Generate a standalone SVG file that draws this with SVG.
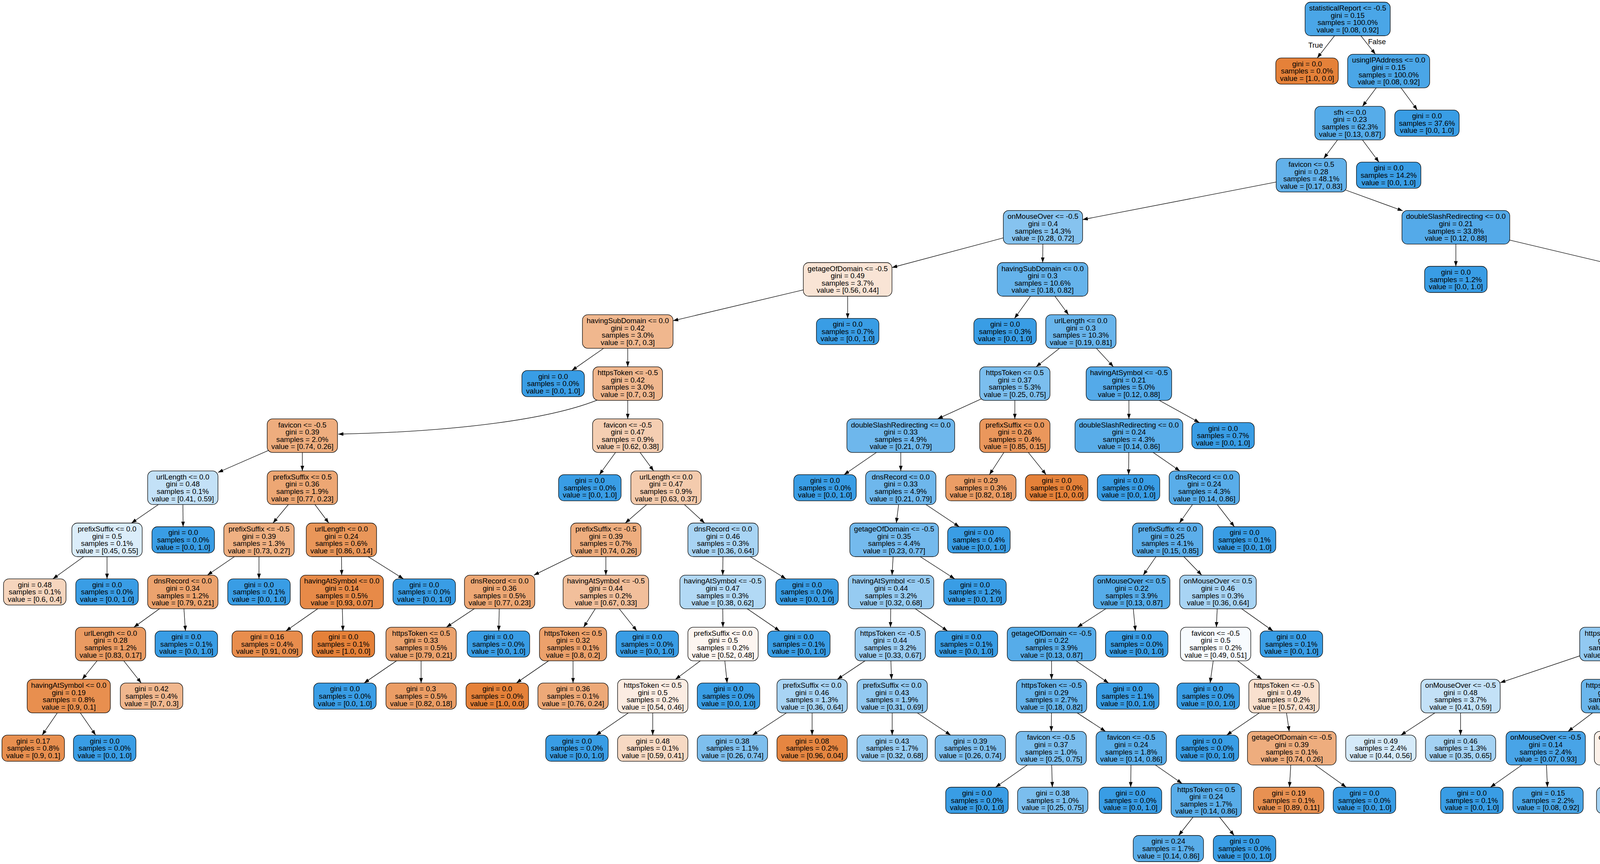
<svg xmlns="http://www.w3.org/2000/svg" width="7837" height="2211" viewBox="0 0 7837 2211">
<style>
.nd rect{stroke:#000;stroke-width:1.3;rx:14px;ry:14px}
.nd text,.lbl{font-family:"Liberation Sans",Arial,Helvetica,sans-serif;font-size:18.67px;text-anchor:middle;fill:#000}
#edges path{fill:none;stroke:#000;stroke-width:1.3;marker-end:url(#ah)}
</style>
<defs>
<marker id="ah" markerUnits="userSpaceOnUse" markerWidth="14" markerHeight="10" refX="13.3" refY="4.7" orient="auto"><path d="M0,0L13.3,4.7L0,9.4z" fill="#000"/></marker>
</defs>
<rect width="7837" height="2211" fill="#fff"/>
<g id="edges">
<path d="M3450,48.5L3372.1,148.3"/><path d="M3450,48.5L3521.1,138.8"/>
<path d="M3555,181.8L3487.9,272.1"/><path d="M3555,181.8L3628.4,281.6"/>
<path d="M3456,315.1L3388.9,405.4"/><path d="M3456,315.1L3530.1,414.9"/>
<path d="M3357,448.4L2771.5,562"/><path d="M3400,470L3591,539.5"/>
<path d="M2670,581.7L2283.5,684.7"/><path d="M2670,581.7L2669.3,672"/>
<path d="M3727,581.7L3727,681.5"/><path d="M3727,581.7L4175.5,688.1"/>
<path d="M2170,715L1723,820.8"/><path d="M2170,715L2170,814.8"/>
<path d="M2669,715L2597.1,814.8"/><path d="M2669,715L2735.4,805.3"/>
<path d="M4289,715L4289,805.3"/><path d="M4289,715L4432.7,814.8"/>
<path d="M1607,848.3L1464,948.1"/><path d="M1607,848.3L1607,938.6"/>
<path d="M2767,848.3L2652.5,938.6"/><path d="M2767,848.3L2850.3,938.6"/>
<path d="M4289,848.3L4289,938.6"/><path d="M4289,848.3L4453,948.1"/>
<path d="M1560,1010C1430,1075 1150,1105 866,1111"/><path d="M1607,981.6L1607,1071.9"/>
<path d="M2598,981.6L2400.2,1071.9"/><path d="M2598,981.6L2598,1071.9"/>
<path d="M2890,981.6L2890,1071.9"/><path d="M2890,981.6L3070.4,1081.4"/>
<path d="M4289,981.6L4289,1081.4"/><path d="M4380,1010C4600,1055 4950,1085 5433,1109"/>
<path d="M774,1114.9L558,1209"/><path d="M774,1114.9L774,1205.2"/>
<path d="M1607,1114.9L1534.4,1214.7"/><path d="M1607,1114.9L1673.4,1205.2"/>
<path d="M2306,1114.9L2160.8,1214.7"/><path d="M2306,1114.9L2306,1205.2"/>
<path d="M2598,1114.9L2532.9,1214.7"/><path d="M2598,1114.9L2678.1,1214.7"/>
<path d="M2890,1114.9L2889.3,1214.7"/><path d="M2890,1114.9L3020.7,1205.2"/>
<path d="M5523,1114.9L5523,1205.2"/><path d="M5523,1114.9L6551,1237.5"/>
<path d="M468,1248.2L336.6,1338.5"/><path d="M468,1248.2L468.7,1348"/>
<path d="M774,1248.2L698.8,1338.5"/><path d="M774,1248.2L841.7,1338.5"/>
<path d="M1705,1248.2L1600.7,1338.5"/><path d="M1705,1248.2L1803.9,1338.5"/>
<path d="M2306,1248.2L2294.5,1338.5"/><path d="M2306,1248.2L2455.7,1348"/>
<path d="M3083,1248.2L3019.3,1338.5"/><path d="M3083,1248.2L3160.1,1348"/>
<path d="M5523,1248.2L5387.5,1338.5"/><path d="M5523,1248.2L5731,1338.5"/>
<path d="M6641,1248.2L6641,1338.5"/><path d="M6641,1248.2L7045.5,1353.7"/>
<path d="M274,1381.5L135.5,1481.3"/><path d="M274,1381.5L274,1481.3"/>
<path d="M663,1381.5L530.9,1471.8"/><path d="M663,1381.5L663,1481.3"/>
<path d="M874,1381.5L874.7,1471.8"/><path d="M874,1381.5L1032.7,1481.3"/>
<path d="M1551,1381.5L1366.7,1471.8"/><path d="M1551,1381.5L1551,1471.8"/>
<path d="M1851,1381.5L1850.3,1471.8"/><path d="M1851,1381.5L2012,1481.3"/>
<path d="M2289,1381.5L2283.6,1471.8"/><path d="M2289,1381.5L2444,1481.3"/>
<path d="M2989,1381.5L2926.7,1471.8"/><path d="M2989,1381.5L3076.4,1471.8"/>
<path d="M5323,1381.5L4645.5,1496.7"/><path d="M5323,1381.5L5323.7,1471.8"/>
<path d="M5830,1381.5L5830,1471.8"/><path d="M5830,1381.5L5976,1481.3"/>
<path d="M6641,1381.5L6579.4,1471.8"/><path d="M6641,1381.5L6717.4,1481.3"/>
<path d="M7152,1381.5L7152.7,1471.8"/><path d="M7152,1381.5L7298.7,1481.3"/>
<path d="M468,1514.8L342.7,1605.1"/><path d="M468,1514.8L474.7,1614.6"/>
<path d="M875,1514.8L732,1614.6"/><path d="M875,1514.8L878,1614.6"/>
<path d="M1279,1514.8L1142.8,1605.1"/><path d="M1279,1514.8L1276.8,1614.6"/>
<path d="M1551,1514.8L1494.1,1605.1"/><path d="M1551,1514.8L1630.4,1614.6"/>
<path d="M1850,1514.8L1850.7,1605.1"/><path d="M1850,1514.8L1996,1614.6"/>
<path d="M2281,1514.8L2279.6,1605.1"/><path d="M2281,1514.8L2425.5,1614.6"/>
<path d="M2897,1514.8L2758.1,1605.1"/><path d="M2897,1514.8L2906.7,1614.6"/>
<path d="M3118,1514.8L3113.9,1605.1"/><path d="M3118,1514.8L3258.8,1614.6"/>
<path d="M4539,1514.8L4224,1618.5"/><path d="M4539,1514.8L4539.7,1605.1"/>
<path d="M5324,1514.8L5250.2,1605.1"/><path d="M5324,1514.8L5397.2,1605.1"/>
<path d="M5830,1514.8L5830.7,1605.1"/><path d="M5830,1514.8L5976,1614.6"/>
<path d="M6550,1514.8L6476.2,1605.1"/><path d="M6550,1514.8L6622.5,1605.1"/>
<path d="M7153,1514.8L7153.7,1605.1"/><path d="M7153,1514.8L7365.7,1605.1"/>
<path d="M283,1648.1L210.5,1738.4"/><path d="M283,1648.1L361.6,1747.9"/>
<path d="M1078,1648.1L932,1747.9"/><path d="M1078,1648.1L1078,1747.9"/>
<path d="M1467,1648.1L1321.8,1747.9"/><path d="M1467,1648.1L1467,1747.9"/>
<path d="M1851,1648.1L1729.1,1738.4"/><path d="M1851,1648.1L1861.5,1747.9"/>
<path d="M2279,1648.1L2143.5,1738.4"/><path d="M2279,1648.1L2282.4,1738.4"/>
<path d="M2692,1648.1L2692,1738.4"/><path d="M2692,1648.1L2838,1747.9"/>
<path d="M3112,1648.1L3097.8,1747.9"/><path d="M3112,1648.1L3230.5,1738.4"/>
<path d="M4134,1648.1L3840.5,1747.1"/><path d="M4134,1648.1L4134,1738.4"/>
<path d="M4540,1648.1L4470.2,1738.4"/><path d="M4540,1648.1L4616.4,1747.9"/>
<path d="M5215,1648.1L5061.2,1738.4"/><path d="M5215,1648.1L5215,1738.4"/>
<path d="M5432,1648.1L5432,1738.4"/><path d="M5432,1648.1L5584.7,1747.9"/>
<path d="M5831,1648.1L5830.3,1747.9"/><path d="M5831,1648.1L5968,1747.9"/>
<path d="M6441,1648.1L6291.3,1738.4"/><path d="M6441,1648.1L6444.4,1738.4"/>
<path d="M6657,1648.1L6653.3,1747.9"/><path d="M6657,1648.1L6790.4,1738.4"/>
<path d="M7154,1648.1L7088.9,1747.9"/><path d="M7154,1648.1L7242.3,1747.9"/>
<path d="M7467,1648.1L7467,1747.9"/><path d="M7467,1648.1L7597.7,1738.4"/>
<path d="M176,1781.4L107.9,1881.2"/><path d="M176,1781.4L244.9,1881.2"/>
<path d="M1671,1781.4L1525.8,1881.2"/><path d="M1671,1781.4L1671,1881.2"/>
<path d="M2079,1781.4L1926.3,1881.2"/><path d="M2079,1781.4L2079,1881.2"/>
<path d="M2284,1781.4L2284,1881.2"/><path d="M2284,1781.4L2433.7,1881.2"/>
<path d="M2692,1781.4L2691.3,1871.7"/><path d="M2692,1781.4L2830.2,1871.7"/>
<path d="M3287,1781.4L3140.3,1881.2"/><path d="M3287,1781.4L3300.5,1871.7"/>
<path d="M3739,1781.4L3586.3,1881.2"/><path d="M3739,1781.4L3739,1881.2"/>
<path d="M4134,1781.4L4014.1,1871.7"/><path d="M4134,1781.4L4167.2,1871.7"/>
<path d="M4437,1781.4L4400.3,1881.2"/><path d="M4437,1781.4L4546.3,1881.2"/>
<path d="M4988,1781.4L4837.5,1881.2"/><path d="M4988,1781.4L4990.2,1881.2"/>
<path d="M5215,1781.4L5192.5,1881.2"/><path d="M5215,1781.4L5327.4,1871.7"/>
<path d="M5432,1781.4L5543.1,1871.7"/><path d="M5500,1812C5600,1835 5690,1845 5735,1881.2"/>
<path d="M6220,1781.4L6084.5,1871.7"/><path d="M6220,1781.4L6228.2,1881.2"/>
<path d="M6446,1781.4L6424.3,1881.2"/><path d="M6446,1781.4L6569.3,1871.7"/>
<path d="M6854,1781.4L6853.3,1881.2"/><path d="M6854,1781.4L6998.5,1881.2"/>
<path d="M7660,1781.4L7591.1,1881.2"/><path d="M7660,1781.4L7728.9,1881.2"/>
<path d="M2691,1914.7L2548.7,2014.5"/><path d="M2691,1914.7L2694,2014.5"/>
<path d="M2896,1914.7L2894.5,2014.5"/><path d="M2896,1914.7L3026.1,2005"/>
<path d="M3307,1914.7L3301,2014.5"/><path d="M3307,1914.7L3446.3,2014.5"/>
<path d="M3957,1914.7L3815.5,2014.5"/><path d="M3957,1914.7L3961.5,2014.5"/>
<path d="M4183,1914.7L4178.5,2014.5"/><path d="M4183,1914.7L4331.2,2014.5"/>
<path d="M5381,1914.7L5229.8,2014.5"/><path d="M5381,1914.7L5382.5,2014.5"/>
<path d="M5596,1914.7L5592.3,2014.5"/><path d="M5596,1914.7L5738.3,2014.5"/>
<path d="M6020,1914.7L6007.3,2014.5"/><path d="M6020,1914.7L6153.3,2014.5"/>
<path d="M6628,1914.7L6560.3,2005"/><path d="M6628,1914.7L6705.1,2014.5"/>
<path d="M3088,2048L3017.3,2138"/><path d="M3088,2048L3159.4,2138"/>
<path d="M6528,2048L6456.6,2138"/><path d="M6528,2048L6598.7,2138"/>
</g>
<g id="labels">
<text class="lbl" x="3368" y="121.5">True</text>
<text class="lbl" x="3525" y="112.5">False</text>
</g>
<g id="nodes">
<g id="n0" class="nd"><rect x="3341" y="5.5" width="218" height="86" fill="#4aa6e7"/><text y="55"><tspan x="3450" dy="-27.9">statisticalReport &lt;= -0.5</tspan><tspan x="3450" dy="18.6">gini = 0.15</tspan><tspan x="3450" dy="18.6">samples = 100.0%</tspan><tspan x="3450" dy="18.6">value = [0.08, 0.92]</tspan></text></g>
<g id="n1" class="nd"><rect x="3266" y="148.3" width="160" height="67" fill="#e58139"/><text y="188.3"><tspan x="3346" dy="-18.6">gini = 0.0</tspan><tspan x="3346" dy="18.6">samples = 0.0%</tspan><tspan x="3346" dy="18.6">value = [1.0, 0.0]</tspan></text></g>
<g id="n2" class="nd"><rect x="3450" y="138.8" width="210" height="86" fill="#4aa6e7"/><text y="188.3"><tspan x="3555" dy="-27.9">usingIPAddress &lt;= 0.0</tspan><tspan x="3555" dy="18.6">gini = 0.15</tspan><tspan x="3555" dy="18.6">samples = 100.0%</tspan><tspan x="3555" dy="18.6">value = [0.08, 0.92]</tspan></text></g>
<g id="n3" class="nd"><rect x="3366" y="272.1" width="180" height="86" fill="#56ace9"/><text y="321.6"><tspan x="3456" dy="-27.9">sfh &lt;= 0.0</tspan><tspan x="3456" dy="18.6">gini = 0.23</tspan><tspan x="3456" dy="18.6">samples = 62.3%</tspan><tspan x="3456" dy="18.6">value = [0.13, 0.87]</tspan></text></g>
<g id="n4" class="nd"><rect x="3570.5" y="281.6" width="165" height="67" fill="#399de5"/><text y="321.6"><tspan x="3653" dy="-18.6">gini = 0.0</tspan><tspan x="3653" dy="18.6">samples = 37.6%</tspan><tspan x="3653" dy="18.6">value = [0.0, 1.0]</tspan></text></g>
<g id="n5" class="nd"><rect x="3267" y="405.4" width="180" height="86" fill="#62b1ea"/><text y="454.9"><tspan x="3357" dy="-27.9">favicon &lt;= 0.5</tspan><tspan x="3357" dy="18.6">gini = 0.28</tspan><tspan x="3357" dy="18.6">samples = 48.1%</tspan><tspan x="3357" dy="18.6">value = [0.17, 0.83]</tspan></text></g>
<g id="n6" class="nd"><rect x="3472.5" y="414.9" width="165" height="67" fill="#399de5"/><text y="454.9"><tspan x="3555" dy="-18.6">gini = 0.0</tspan><tspan x="3555" dy="18.6">samples = 14.2%</tspan><tspan x="3555" dy="18.6">value = [0.0, 1.0]</tspan></text></g>
<g id="n7" class="nd"><rect x="2568.5" y="538.7" width="203" height="86" fill="#86c3ef"/><text y="588.2"><tspan x="2670" dy="-27.9">onMouseOver &lt;= -0.5</tspan><tspan x="2670" dy="18.6">gini = 0.4</tspan><tspan x="2670" dy="18.6">samples = 14.3%</tspan><tspan x="2670" dy="18.6">value = [0.28, 0.72]</tspan></text></g>
<g id="n8" class="nd"><rect x="3589" y="538.7" width="276" height="86" fill="#54aae9"/><text y="588.2"><tspan x="3727" dy="-27.9">doubleSlashRedirecting &lt;= 0.0</tspan><tspan x="3727" dy="18.6">gini = 0.21</tspan><tspan x="3727" dy="18.6">samples = 33.8%</tspan><tspan x="3727" dy="18.6">value = [0.12, 0.88]</tspan></text></g>
<g id="n9" class="nd"><rect x="2056.5" y="672" width="227" height="86" fill="#f9e4d5"/><text y="721.5"><tspan x="2170" dy="-27.9">getageOfDomain &lt;= -0.5</tspan><tspan x="2170" dy="18.6">gini = 0.49</tspan><tspan x="2170" dy="18.6">samples = 3.7%</tspan><tspan x="2170" dy="18.6">value = [0.56, 0.44]</tspan></text></g>
<g id="n10" class="nd"><rect x="2553" y="672" width="232" height="86" fill="#65b3eb"/><text y="721.5"><tspan x="2669" dy="-27.9">havingSubDomain &lt;= 0.0</tspan><tspan x="2669" dy="18.6">gini = 0.3</tspan><tspan x="2669" dy="18.6">samples = 10.6%</tspan><tspan x="2669" dy="18.6">value = [0.18, 0.82]</tspan></text></g>
<g id="n11" class="nd"><rect x="3647" y="681.5" width="160" height="67" fill="#399de5"/><text y="721.5"><tspan x="3727" dy="-18.6">gini = 0.0</tspan><tspan x="3727" dy="18.6">samples = 1.2%</tspan><tspan x="3727" dy="18.6">value = [0.0, 1.0]</tspan></text></g>
<g id="n12" class="nd"><rect x="4175.5" y="672" width="227" height="86" fill="#54aae9"/><text y="721.5"><tspan x="4289" dy="-27.9">getageOfDomain &lt;= -0.5</tspan><tspan x="4289" dy="18.6">gini = 0.22</tspan><tspan x="4289" dy="18.6">samples = 32.7%</tspan><tspan x="4289" dy="18.6">value = [0.12, 0.88]</tspan></text></g>
<g id="n13" class="nd"><rect x="1491" y="805.3" width="232" height="86" fill="#f0b78e"/><text y="854.8"><tspan x="1607" dy="-27.9">havingSubDomain &lt;= 0.0</tspan><tspan x="1607" dy="18.6">gini = 0.42</tspan><tspan x="1607" dy="18.6">samples = 3.0%</tspan><tspan x="1607" dy="18.6">value = [0.7, 0.3]</tspan></text></g>
<g id="n14" class="nd"><rect x="2090" y="814.8" width="160" height="67" fill="#399de5"/><text y="854.8"><tspan x="2170" dy="-18.6">gini = 0.0</tspan><tspan x="2170" dy="18.6">samples = 0.7%</tspan><tspan x="2170" dy="18.6">value = [0.0, 1.0]</tspan></text></g>
<g id="n15" class="nd"><rect x="2493" y="814.8" width="160" height="67" fill="#399de5"/><text y="854.8"><tspan x="2573" dy="-18.6">gini = 0.0</tspan><tspan x="2573" dy="18.6">samples = 0.3%</tspan><tspan x="2573" dy="18.6">value = [0.0, 1.0]</tspan></text></g>
<g id="n16" class="nd"><rect x="2677" y="805.3" width="180" height="86" fill="#68b4eb"/><text y="854.8"><tspan x="2767" dy="-27.9">urlLength &lt;= 0.0</tspan><tspan x="2767" dy="18.6">gini = 0.3</tspan><tspan x="2767" dy="18.6">samples = 10.3%</tspan><tspan x="2767" dy="18.6">value = [0.19, 0.81]</tspan></text></g>
<g id="n17" class="nd"><rect x="4204.5" y="805.3" width="169" height="86" fill="#6ab6ec"/><text y="854.8"><tspan x="4289" dy="-27.9">dnsRecord &lt;= 0.0</tspan><tspan x="4289" dy="18.6">gini = 0.32</tspan><tspan x="4289" dy="18.6">samples = 19.7%</tspan><tspan x="4289" dy="18.6">value = [0.2, 0.8]</tspan></text></g>
<g id="n18" class="nd"><rect x="4398.5" y="814.8" width="165" height="67" fill="#399de5"/><text y="854.8"><tspan x="4481" dy="-18.6">gini = 0.0</tspan><tspan x="4481" dy="18.6">samples = 12.9%</tspan><tspan x="4481" dy="18.6">value = [0.0, 1.0]</tspan></text></g>
<g id="n19" class="nd"><rect x="1336" y="948.1" width="160" height="67" fill="#399de5"/><text y="988.1"><tspan x="1416" dy="-18.6">gini = 0.0</tspan><tspan x="1416" dy="18.6">samples = 0.0%</tspan><tspan x="1416" dy="18.6">value = [0.0, 1.0]</tspan></text></g>
<g id="n20" class="nd"><rect x="1518" y="938.6" width="178" height="86" fill="#f0b78e"/><text y="988.1"><tspan x="1607" dy="-27.9">httpsToken &lt;= -0.5</tspan><tspan x="1607" dy="18.6">gini = 0.42</tspan><tspan x="1607" dy="18.6">samples = 3.0%</tspan><tspan x="1607" dy="18.6">value = [0.7, 0.3]</tspan></text></g>
<g id="n21" class="nd"><rect x="2508" y="938.6" width="180" height="86" fill="#7bbeee"/><text y="988.1"><tspan x="2598" dy="-27.9">httpsToken &lt;= 0.5</tspan><tspan x="2598" dy="18.6">gini = 0.37</tspan><tspan x="2598" dy="18.6">samples = 5.3%</tspan><tspan x="2598" dy="18.6">value = [0.25, 0.75]</tspan></text></g>
<g id="n22" class="nd"><rect x="2780.5" y="938.6" width="219" height="86" fill="#54aae9"/><text y="988.1"><tspan x="2890" dy="-27.9">havingAtSymbol &lt;= -0.5</tspan><tspan x="2890" dy="18.6">gini = 0.21</tspan><tspan x="2890" dy="18.6">samples = 5.0%</tspan><tspan x="2890" dy="18.6">value = [0.12, 0.88]</tspan></text></g>
<g id="n23" class="nd"><rect x="4173" y="938.6" width="232" height="86" fill="#6eb7ec"/><text y="988.1"><tspan x="4289" dy="-27.9">havingSubDomain &lt;= 0.0</tspan><tspan x="4289" dy="18.6">gini = 0.33</tspan><tspan x="4289" dy="18.6">samples = 19.0%</tspan><tspan x="4289" dy="18.6">value = [0.21, 0.79]</tspan></text></g>
<g id="n24" class="nd"><rect x="4428" y="948.1" width="160" height="67" fill="#399de5"/><text y="988.1"><tspan x="4508" dy="-18.6">gini = 0.0</tspan><tspan x="4508" dy="18.6">samples = 0.8%</tspan><tspan x="4508" dy="18.6">value = [0.0, 1.0]</tspan></text></g>
<g id="n25" class="nd"><rect x="684" y="1071.9" width="180" height="86" fill="#eead7e"/><text y="1121.4"><tspan x="774" dy="-27.9">favicon &lt;= -0.5</tspan><tspan x="774" dy="18.6">gini = 0.39</tspan><tspan x="774" dy="18.6">samples = 2.0%</tspan><tspan x="774" dy="18.6">value = [0.74, 0.26]</tspan></text></g>
<g id="n26" class="nd"><rect x="1517" y="1071.9" width="180" height="86" fill="#f5ceb2"/><text y="1121.4"><tspan x="1607" dy="-27.9">favicon &lt;= -0.5</tspan><tspan x="1607" dy="18.6">gini = 0.47</tspan><tspan x="1607" dy="18.6">samples = 0.9%</tspan><tspan x="1607" dy="18.6">value = [0.62, 0.38]</tspan></text></g>
<g id="n27" class="nd"><rect x="2168" y="1071.9" width="276" height="86" fill="#6eb7ec"/><text y="1121.4"><tspan x="2306" dy="-27.9">doubleSlashRedirecting &lt;= 0.0</tspan><tspan x="2306" dy="18.6">gini = 0.33</tspan><tspan x="2306" dy="18.6">samples = 4.9%</tspan><tspan x="2306" dy="18.6">value = [0.21, 0.79]</tspan></text></g>
<g id="n28" class="nd"><rect x="2508" y="1071.9" width="180" height="86" fill="#ea975c"/><text y="1121.4"><tspan x="2598" dy="-27.9">prefixSuffix &lt;= 0.0</tspan><tspan x="2598" dy="18.6">gini = 0.26</tspan><tspan x="2598" dy="18.6">samples = 0.4%</tspan><tspan x="2598" dy="18.6">value = [0.85, 0.15]</tspan></text></g>
<g id="n29" class="nd"><rect x="2752" y="1071.9" width="276" height="86" fill="#59ade9"/><text y="1121.4"><tspan x="2890" dy="-27.9">doubleSlashRedirecting &lt;= 0.0</tspan><tspan x="2890" dy="18.6">gini = 0.24</tspan><tspan x="2890" dy="18.6">samples = 4.3%</tspan><tspan x="2890" dy="18.6">value = [0.14, 0.86]</tspan></text></g>
<g id="n30" class="nd"><rect x="3051" y="1081.4" width="160" height="67" fill="#399de5"/><text y="1121.4"><tspan x="3131" dy="-18.6">gini = 0.0</tspan><tspan x="3131" dy="18.6">samples = 0.7%</tspan><tspan x="3131" dy="18.6">value = [0.0, 1.0]</tspan></text></g>
<g id="n31" class="nd"><rect x="4209" y="1081.4" width="160" height="67" fill="#399de5"/><text y="1121.4"><tspan x="4289" dy="-18.6">gini = 0.0</tspan><tspan x="4289" dy="18.6">samples = 0.1%</tspan><tspan x="4289" dy="18.6">value = [0.0, 1.0]</tspan></text></g>
<g id="n32" class="nd"><rect x="5433" y="1071.9" width="180" height="86" fill="#6eb7ec"/><text y="1121.4"><tspan x="5523" dy="-27.9">urlLength &lt;= 0.0</tspan><tspan x="5523" dy="18.6">gini = 0.34</tspan><tspan x="5523" dy="18.6">samples = 18.9%</tspan><tspan x="5523" dy="18.6">value = [0.21, 0.79]</tspan></text></g>
<g id="n33" class="nd"><rect x="378" y="1205.2" width="180" height="86" fill="#c3e1f7"/><text y="1254.7"><tspan x="468" dy="-27.9">urlLength &lt;= 0.0</tspan><tspan x="468" dy="18.6">gini = 0.48</tspan><tspan x="468" dy="18.6">samples = 0.1%</tspan><tspan x="468" dy="18.6">value = [0.41, 0.59]</tspan></text></g>
<g id="n34" class="nd"><rect x="684" y="1205.2" width="180" height="86" fill="#eda774"/><text y="1254.7"><tspan x="774" dy="-27.9">prefixSuffix &lt;= 0.5</tspan><tspan x="774" dy="18.6">gini = 0.36</tspan><tspan x="774" dy="18.6">samples = 1.9%</tspan><tspan x="774" dy="18.6">value = [0.77, 0.23]</tspan></text></g>
<g id="n35" class="nd"><rect x="1430" y="1214.7" width="160" height="67" fill="#399de5"/><text y="1254.7"><tspan x="1510" dy="-18.6">gini = 0.0</tspan><tspan x="1510" dy="18.6">samples = 0.0%</tspan><tspan x="1510" dy="18.6">value = [0.0, 1.0]</tspan></text></g>
<g id="n36" class="nd"><rect x="1615" y="1205.2" width="180" height="86" fill="#f4cbad"/><text y="1254.7"><tspan x="1705" dy="-27.9">urlLength &lt;= 0.0</tspan><tspan x="1705" dy="18.6">gini = 0.47</tspan><tspan x="1705" dy="18.6">samples = 0.9%</tspan><tspan x="1705" dy="18.6">value = [0.63, 0.37]</tspan></text></g>
<g id="n37" class="nd"><rect x="2032" y="1214.7" width="160" height="67" fill="#399de5"/><text y="1254.7"><tspan x="2112" dy="-18.6">gini = 0.0</tspan><tspan x="2112" dy="18.6">samples = 0.0%</tspan><tspan x="2112" dy="18.6">value = [0.0, 1.0]</tspan></text></g>
<g id="n38" class="nd"><rect x="2216" y="1205.2" width="180" height="86" fill="#6eb7ec"/><text y="1254.7"><tspan x="2306" dy="-27.9">dnsRecord &lt;= 0.0</tspan><tspan x="2306" dy="18.6">gini = 0.33</tspan><tspan x="2306" dy="18.6">samples = 4.9%</tspan><tspan x="2306" dy="18.6">value = [0.21, 0.79]</tspan></text></g>
<g id="n39" class="nd"><rect x="2421" y="1214.7" width="180" height="67" fill="#eb9d65"/><text y="1254.7"><tspan x="2511" dy="-18.6">gini = 0.29</tspan><tspan x="2511" dy="18.6">samples = 0.3%</tspan><tspan x="2511" dy="18.6">value = [0.82, 0.18]</tspan></text></g>
<g id="n40" class="nd"><rect x="2625" y="1214.7" width="160" height="67" fill="#e58139"/><text y="1254.7"><tspan x="2705" dy="-18.6">gini = 0.0</tspan><tspan x="2705" dy="18.6">samples = 0.0%</tspan><tspan x="2705" dy="18.6">value = [1.0, 0.0]</tspan></text></g>
<g id="n41" class="nd"><rect x="2809" y="1214.7" width="160" height="67" fill="#399de5"/><text y="1254.7"><tspan x="2889" dy="-18.6">gini = 0.0</tspan><tspan x="2889" dy="18.6">samples = 0.0%</tspan><tspan x="2889" dy="18.6">value = [0.0, 1.0]</tspan></text></g>
<g id="n42" class="nd"><rect x="2993" y="1205.2" width="180" height="86" fill="#59ade9"/><text y="1254.7"><tspan x="3083" dy="-27.9">dnsRecord &lt;= 0.0</tspan><tspan x="3083" dy="18.6">gini = 0.24</tspan><tspan x="3083" dy="18.6">samples = 4.3%</tspan><tspan x="3083" dy="18.6">value = [0.14, 0.86]</tspan></text></g>
<g id="n43" class="nd"><rect x="5425" y="1205.2" width="196" height="86" fill="#92c9f1"/><text y="1254.7"><tspan x="5523" dy="-27.9">onMouseOver &lt;= 0.5</tspan><tspan x="5523" dy="18.6">gini = 0.42</tspan><tspan x="5523" dy="18.6">samples = 10.0%</tspan><tspan x="5523" dy="18.6">value = [0.31, 0.69]</tspan></text></g>
<g id="n44" class="nd"><rect x="6551" y="1205.2" width="180" height="86" fill="#52a9e8"/><text y="1254.7"><tspan x="6641" dy="-27.9">prefixSuffix &lt;= 0.5</tspan><tspan x="6641" dy="18.6">gini = 0.2</tspan><tspan x="6641" dy="18.6">samples = 8.9%</tspan><tspan x="6641" dy="18.6">value = [0.11, 0.89]</tspan></text></g>
<g id="n45" class="nd"><rect x="184" y="1338.5" width="180" height="86" fill="#dbedfa"/><text y="1388"><tspan x="274" dy="-27.9">prefixSuffix &lt;= 0.0</tspan><tspan x="274" dy="18.6">gini = 0.5</tspan><tspan x="274" dy="18.6">samples = 0.1%</tspan><tspan x="274" dy="18.6">value = [0.45, 0.55]</tspan></text></g>
<g id="n46" class="nd"><rect x="389" y="1348" width="160" height="67" fill="#399de5"/><text y="1388"><tspan x="469" dy="-18.6">gini = 0.0</tspan><tspan x="469" dy="18.6">samples = 0.0%</tspan><tspan x="469" dy="18.6">value = [0.0, 1.0]</tspan></text></g>
<g id="n47" class="nd"><rect x="573" y="1338.5" width="180" height="86" fill="#efb082"/><text y="1388"><tspan x="663" dy="-27.9">prefixSuffix &lt;= -0.5</tspan><tspan x="663" dy="18.6">gini = 0.39</tspan><tspan x="663" dy="18.6">samples = 1.3%</tspan><tspan x="663" dy="18.6">value = [0.73, 0.27]</tspan></text></g>
<g id="n48" class="nd"><rect x="784" y="1338.5" width="180" height="86" fill="#e99659"/><text y="1388"><tspan x="874" dy="-27.9">urlLength &lt;= 0.0</tspan><tspan x="874" dy="18.6">gini = 0.24</tspan><tspan x="874" dy="18.6">samples = 0.6%</tspan><tspan x="874" dy="18.6">value = [0.86, 0.14]</tspan></text></g>
<g id="n49" class="nd"><rect x="1461" y="1338.5" width="180" height="86" fill="#eead7e"/><text y="1388"><tspan x="1551" dy="-27.9">prefixSuffix &lt;= -0.5</tspan><tspan x="1551" dy="18.6">gini = 0.39</tspan><tspan x="1551" dy="18.6">samples = 0.7%</tspan><tspan x="1551" dy="18.6">value = [0.74, 0.26]</tspan></text></g>
<g id="n50" class="nd"><rect x="1761" y="1338.5" width="180" height="86" fill="#a8d4f4"/><text y="1388"><tspan x="1851" dy="-27.9">dnsRecord &lt;= 0.0</tspan><tspan x="1851" dy="18.6">gini = 0.46</tspan><tspan x="1851" dy="18.6">samples = 0.3%</tspan><tspan x="1851" dy="18.6">value = [0.36, 0.64]</tspan></text></g>
<g id="n51" class="nd"><rect x="2175.5" y="1338.5" width="227" height="86" fill="#74baed"/><text y="1388"><tspan x="2289" dy="-27.9">getageOfDomain &lt;= -0.5</tspan><tspan x="2289" dy="18.6">gini = 0.35</tspan><tspan x="2289" dy="18.6">samples = 4.4%</tspan><tspan x="2289" dy="18.6">value = [0.23, 0.77]</tspan></text></g>
<g id="n52" class="nd"><rect x="2426" y="1348" width="160" height="67" fill="#399de5"/><text y="1388"><tspan x="2506" dy="-18.6">gini = 0.0</tspan><tspan x="2506" dy="18.6">samples = 0.4%</tspan><tspan x="2506" dy="18.6">value = [0.0, 1.0]</tspan></text></g>
<g id="n53" class="nd"><rect x="2899" y="1338.5" width="180" height="86" fill="#5caeea"/><text y="1388"><tspan x="2989" dy="-27.9">prefixSuffix &lt;= 0.0</tspan><tspan x="2989" dy="18.6">gini = 0.25</tspan><tspan x="2989" dy="18.6">samples = 4.1%</tspan><tspan x="2989" dy="18.6">value = [0.15, 0.85]</tspan></text></g>
<g id="n54" class="nd"><rect x="3106" y="1348" width="160" height="67" fill="#399de5"/><text y="1388"><tspan x="3186" dy="-18.6">gini = 0.0</tspan><tspan x="3186" dy="18.6">samples = 0.1%</tspan><tspan x="3186" dy="18.6">value = [0.0, 1.0]</tspan></text></g>
<g id="n55" class="nd"><rect x="5233" y="1338.5" width="180" height="86" fill="#8ac5f0"/><text y="1388"><tspan x="5323" dy="-27.9">prefixSuffix &lt;= -0.5</tspan><tspan x="5323" dy="18.6">gini = 0.42</tspan><tspan x="5323" dy="18.6">samples = 9.8%</tspan><tspan x="5323" dy="18.6">value = [0.29, 0.71]</tspan></text></g>
<g id="n56" class="nd"><rect x="5720.5" y="1338.5" width="219" height="86" fill="#ea975c"/><text y="1388"><tspan x="5830" dy="-27.9">havingAtSymbol &lt;= -0.5</tspan><tspan x="5830" dy="18.6">gini = 0.26</tspan><tspan x="5830" dy="18.6">samples = 0.2%</tspan><tspan x="5830" dy="18.6">value = [0.85, 0.15]</tspan></text></g>
<g id="n57" class="nd"><rect x="6551" y="1338.5" width="180" height="86" fill="#4da7e8"/><text y="1388"><tspan x="6641" dy="-27.9">prefixSuffix &lt;= -0.5</tspan><tspan x="6641" dy="18.6">gini = 0.16</tspan><tspan x="6641" dy="18.6">samples = 7.1%</tspan><tspan x="6641" dy="18.6">value = [0.09, 0.91]</tspan></text></g>
<g id="n58" class="nd"><rect x="7045.5" y="1338.5" width="213" height="86" fill="#6ab6ec"/><text y="1388"><tspan x="7152" dy="-27.9">havingAtSymbol &lt;= 0.0</tspan><tspan x="7152" dy="18.6">gini = 0.32</tspan><tspan x="7152" dy="18.6">samples = 1.7%</tspan><tspan x="7152" dy="18.6">value = [0.2, 0.8]</tspan></text></g>
<g id="n59" class="nd"><rect x="9" y="1481.3" width="160" height="67" fill="#f6d5bd"/><text y="1521.3"><tspan x="89" dy="-18.6">gini = 0.48</tspan><tspan x="89" dy="18.6">samples = 0.1%</tspan><tspan x="89" dy="18.6">value = [0.6, 0.4]</tspan></text></g>
<g id="n60" class="nd"><rect x="194" y="1481.3" width="160" height="67" fill="#399de5"/><text y="1521.3"><tspan x="274" dy="-18.6">gini = 0.0</tspan><tspan x="274" dy="18.6">samples = 0.0%</tspan><tspan x="274" dy="18.6">value = [0.0, 1.0]</tspan></text></g>
<g id="n61" class="nd"><rect x="378" y="1471.8" width="180" height="86" fill="#eca36e"/><text y="1521.3"><tspan x="468" dy="-27.9">dnsRecord &lt;= 0.0</tspan><tspan x="468" dy="18.6">gini = 0.34</tspan><tspan x="468" dy="18.6">samples = 1.2%</tspan><tspan x="468" dy="18.6">value = [0.79, 0.21]</tspan></text></g>
<g id="n62" class="nd"><rect x="583" y="1481.3" width="160" height="67" fill="#399de5"/><text y="1521.3"><tspan x="663" dy="-18.6">gini = 0.0</tspan><tspan x="663" dy="18.6">samples = 0.1%</tspan><tspan x="663" dy="18.6">value = [0.0, 1.0]</tspan></text></g>
<g id="n63" class="nd"><rect x="768.5" y="1471.8" width="213" height="86" fill="#e78a48"/><text y="1521.3"><tspan x="875" dy="-27.9">havingAtSymbol &lt;= 0.0</tspan><tspan x="875" dy="18.6">gini = 0.14</tspan><tspan x="875" dy="18.6">samples = 0.5%</tspan><tspan x="875" dy="18.6">value = [0.93, 0.07]</tspan></text></g>
<g id="n64" class="nd"><rect x="1006" y="1481.3" width="160" height="67" fill="#399de5"/><text y="1521.3"><tspan x="1086" dy="-18.6">gini = 0.0</tspan><tspan x="1086" dy="18.6">samples = 0.0%</tspan><tspan x="1086" dy="18.6">value = [0.0, 1.0]</tspan></text></g>
<g id="n65" class="nd"><rect x="1189" y="1471.8" width="180" height="86" fill="#eda774"/><text y="1521.3"><tspan x="1279" dy="-27.9">dnsRecord &lt;= 0.0</tspan><tspan x="1279" dy="18.6">gini = 0.36</tspan><tspan x="1279" dy="18.6">samples = 0.5%</tspan><tspan x="1279" dy="18.6">value = [0.77, 0.23]</tspan></text></g>
<g id="n66" class="nd"><rect x="1441.5" y="1471.8" width="219" height="86" fill="#f2bf9b"/><text y="1521.3"><tspan x="1551" dy="-27.9">havingAtSymbol &lt;= -0.5</tspan><tspan x="1551" dy="18.6">gini = 0.44</tspan><tspan x="1551" dy="18.6">samples = 0.2%</tspan><tspan x="1551" dy="18.6">value = [0.67, 0.33]</tspan></text></g>
<g id="n67" class="nd"><rect x="1740.5" y="1471.8" width="219" height="86" fill="#b2d9f5"/><text y="1521.3"><tspan x="1850" dy="-27.9">havingAtSymbol &lt;= -0.5</tspan><tspan x="1850" dy="18.6">gini = 0.47</tspan><tspan x="1850" dy="18.6">samples = 0.3%</tspan><tspan x="1850" dy="18.6">value = [0.38, 0.62]</tspan></text></g>
<g id="n68" class="nd"><rect x="1986" y="1481.3" width="160" height="67" fill="#399de5"/><text y="1521.3"><tspan x="2066" dy="-18.6">gini = 0.0</tspan><tspan x="2066" dy="18.6">samples = 0.0%</tspan><tspan x="2066" dy="18.6">value = [0.0, 1.0]</tspan></text></g>
<g id="n69" class="nd"><rect x="2171.5" y="1471.8" width="219" height="86" fill="#96cbf1"/><text y="1521.3"><tspan x="2281" dy="-27.9">havingAtSymbol &lt;= -0.5</tspan><tspan x="2281" dy="18.6">gini = 0.44</tspan><tspan x="2281" dy="18.6">samples = 3.2%</tspan><tspan x="2281" dy="18.6">value = [0.32, 0.68]</tspan></text></g>
<g id="n70" class="nd"><rect x="2416" y="1481.3" width="160" height="67" fill="#399de5"/><text y="1521.3"><tspan x="2496" dy="-18.6">gini = 0.0</tspan><tspan x="2496" dy="18.6">samples = 1.2%</tspan><tspan x="2496" dy="18.6">value = [0.0, 1.0]</tspan></text></g>
<g id="n71" class="nd"><rect x="2799" y="1471.8" width="196" height="86" fill="#56ace9"/><text y="1521.3"><tspan x="2897" dy="-27.9">onMouseOver &lt;= 0.5</tspan><tspan x="2897" dy="18.6">gini = 0.22</tspan><tspan x="2897" dy="18.6">samples = 3.9%</tspan><tspan x="2897" dy="18.6">value = [0.13, 0.87]</tspan></text></g>
<g id="n72" class="nd"><rect x="3020" y="1471.8" width="196" height="86" fill="#a8d4f4"/><text y="1521.3"><tspan x="3118" dy="-27.9">onMouseOver &lt;= 0.5</tspan><tspan x="3118" dy="18.6">gini = 0.46</tspan><tspan x="3118" dy="18.6">samples = 0.3%</tspan><tspan x="3118" dy="18.6">value = [0.36, 0.64]</tspan></text></g>
<g id="n73" class="nd"><rect x="4432.5" y="1471.8" width="213" height="86" fill="#96cbf1"/><text y="1521.3"><tspan x="4539" dy="-27.9">havingAtSymbol &lt;= 0.0</tspan><tspan x="4539" dy="18.6">gini = 0.43</tspan><tspan x="4539" dy="18.6">samples = 7.1%</tspan><tspan x="4539" dy="18.6">value = [0.32, 0.68]</tspan></text></g>
<g id="n74" class="nd"><rect x="5214.5" y="1471.8" width="219" height="86" fill="#78bced"/><text y="1521.3"><tspan x="5324" dy="-27.9">havingAtSymbol &lt;= -0.5</tspan><tspan x="5324" dy="18.6">gini = 0.36</tspan><tspan x="5324" dy="18.6">samples = 2.7%</tspan><tspan x="5324" dy="18.6">value = [0.24, 0.76]</tspan></text></g>
<g id="n75" class="nd"><rect x="5740" y="1471.8" width="180" height="86" fill="#ea995f"/><text y="1521.3"><tspan x="5830" dy="-27.9">prefixSuffix &lt;= 0.0</tspan><tspan x="5830" dy="18.6">gini = 0.27</tspan><tspan x="5830" dy="18.6">samples = 0.2%</tspan><tspan x="5830" dy="18.6">value = [0.84, 0.16]</tspan></text></g>
<g id="n76" class="nd"><rect x="5945" y="1481.3" width="160" height="67" fill="#e58139"/><text y="1521.3"><tspan x="6025" dy="-18.6">gini = 0.0</tspan><tspan x="6025" dy="18.6">samples = 0.0%</tspan><tspan x="6025" dy="18.6">value = [1.0, 0.0]</tspan></text></g>
<g id="n77" class="nd"><rect x="6460" y="1471.8" width="180" height="86" fill="#54aae9"/><text y="1521.3"><tspan x="6550" dy="-27.9">httpsToken &lt;= 0.5</tspan><tspan x="6550" dy="18.6">gini = 0.2</tspan><tspan x="6550" dy="18.6">samples = 5.5%</tspan><tspan x="6550" dy="18.6">value = [0.12, 0.88]</tspan></text></g>
<g id="n78" class="nd"><rect x="6663" y="1481.3" width="160" height="67" fill="#399de5"/><text y="1521.3"><tspan x="6743" dy="-18.6">gini = 0.0</tspan><tspan x="6743" dy="18.6">samples = 1.7%</tspan><tspan x="6743" dy="18.6">value = [0.0, 1.0]</tspan></text></g>
<g id="n79" class="nd"><rect x="7063" y="1471.8" width="180" height="86" fill="#7bbeee"/><text y="1521.3"><tspan x="7153" dy="-27.9">httpsToken &lt;= -0.5</tspan><tspan x="7153" dy="18.6">gini = 0.37</tspan><tspan x="7153" dy="18.6">samples = 1.4%</tspan><tspan x="7153" dy="18.6">value = [0.25, 0.75]</tspan></text></g>
<g id="n80" class="nd"><rect x="7268" y="1481.3" width="160" height="67" fill="#399de5"/><text y="1521.3"><tspan x="7348" dy="-18.6">gini = 0.0</tspan><tspan x="7348" dy="18.6">samples = 0.3%</tspan><tspan x="7348" dy="18.6">value = [0.0, 1.0]</tspan></text></g>
<g id="n81" class="nd"><rect x="193" y="1605.1" width="180" height="86" fill="#ea9b62"/><text y="1654.6"><tspan x="283" dy="-27.9">urlLength &lt;= 0.0</tspan><tspan x="283" dy="18.6">gini = 0.28</tspan><tspan x="283" dy="18.6">samples = 1.2%</tspan><tspan x="283" dy="18.6">value = [0.83, 0.17]</tspan></text></g>
<g id="n82" class="nd"><rect x="397" y="1614.6" width="160" height="67" fill="#399de5"/><text y="1654.6"><tspan x="477" dy="-18.6">gini = 0.0</tspan><tspan x="477" dy="18.6">samples = 0.1%</tspan><tspan x="477" dy="18.6">value = [0.0, 1.0]</tspan></text></g>
<g id="n83" class="nd"><rect x="594" y="1614.6" width="180" height="67" fill="#e88d4d"/><text y="1654.6"><tspan x="684" dy="-18.6">gini = 0.16</tspan><tspan x="684" dy="18.6">samples = 0.4%</tspan><tspan x="684" dy="18.6">value = [0.91, 0.09]</tspan></text></g>
<g id="n84" class="nd"><rect x="799" y="1614.6" width="160" height="67" fill="#e58139"/><text y="1654.6"><tspan x="879" dy="-18.6">gini = 0.0</tspan><tspan x="879" dy="18.6">samples = 0.1%</tspan><tspan x="879" dy="18.6">value = [1.0, 0.0]</tspan></text></g>
<g id="n85" class="nd"><rect x="988" y="1605.1" width="180" height="86" fill="#eca36e"/><text y="1654.6"><tspan x="1078" dy="-27.9">httpsToken &lt;= 0.5</tspan><tspan x="1078" dy="18.6">gini = 0.33</tspan><tspan x="1078" dy="18.6">samples = 0.5%</tspan><tspan x="1078" dy="18.6">value = [0.79, 0.21]</tspan></text></g>
<g id="n86" class="nd"><rect x="1196" y="1614.6" width="160" height="67" fill="#399de5"/><text y="1654.6"><tspan x="1276" dy="-18.6">gini = 0.0</tspan><tspan x="1276" dy="18.6">samples = 0.0%</tspan><tspan x="1276" dy="18.6">value = [0.0, 1.0]</tspan></text></g>
<g id="n87" class="nd"><rect x="1381" y="1605.1" width="172" height="86" fill="#eca16b"/><text y="1654.6"><tspan x="1467" dy="-27.9">httpsToken &lt;= 0.5</tspan><tspan x="1467" dy="18.6">gini = 0.32</tspan><tspan x="1467" dy="18.6">samples = 0.1%</tspan><tspan x="1467" dy="18.6">value = [0.8, 0.2]</tspan></text></g>
<g id="n88" class="nd"><rect x="1577" y="1614.6" width="160" height="67" fill="#399de5"/><text y="1654.6"><tspan x="1657" dy="-18.6">gini = 0.0</tspan><tspan x="1657" dy="18.6">samples = 0.0%</tspan><tspan x="1657" dy="18.6">value = [0.0, 1.0]</tspan></text></g>
<g id="n89" class="nd"><rect x="1761" y="1605.1" width="180" height="86" fill="#fdf5f0"/><text y="1654.6"><tspan x="1851" dy="-27.9">prefixSuffix &lt;= 0.0</tspan><tspan x="1851" dy="18.6">gini = 0.5</tspan><tspan x="1851" dy="18.6">samples = 0.2%</tspan><tspan x="1851" dy="18.6">value = [0.52, 0.48]</tspan></text></g>
<g id="n90" class="nd"><rect x="1965" y="1614.6" width="160" height="67" fill="#399de5"/><text y="1654.6"><tspan x="2045" dy="-18.6">gini = 0.0</tspan><tspan x="2045" dy="18.6">samples = 0.1%</tspan><tspan x="2045" dy="18.6">value = [0.0, 1.0]</tspan></text></g>
<g id="n91" class="nd"><rect x="2189" y="1605.1" width="180" height="86" fill="#9bcdf2"/><text y="1654.6"><tspan x="2279" dy="-27.9">httpsToken &lt;= -0.5</tspan><tspan x="2279" dy="18.6">gini = 0.44</tspan><tspan x="2279" dy="18.6">samples = 3.2%</tspan><tspan x="2279" dy="18.6">value = [0.33, 0.67]</tspan></text></g>
<g id="n92" class="nd"><rect x="2394" y="1614.6" width="160" height="67" fill="#399de5"/><text y="1654.6"><tspan x="2474" dy="-18.6">gini = 0.0</tspan><tspan x="2474" dy="18.6">samples = 0.1%</tspan><tspan x="2474" dy="18.6">value = [0.0, 1.0]</tspan></text></g>
<g id="n93" class="nd"><rect x="2578.5" y="1605.1" width="227" height="86" fill="#56ace9"/><text y="1654.6"><tspan x="2692" dy="-27.9">getageOfDomain &lt;= -0.5</tspan><tspan x="2692" dy="18.6">gini = 0.22</tspan><tspan x="2692" dy="18.6">samples = 3.9%</tspan><tspan x="2692" dy="18.6">value = [0.13, 0.87]</tspan></text></g>
<g id="n94" class="nd"><rect x="2830" y="1614.6" width="160" height="67" fill="#399de5"/><text y="1654.6"><tspan x="2910" dy="-18.6">gini = 0.0</tspan><tspan x="2910" dy="18.6">samples = 0.0%</tspan><tspan x="2910" dy="18.6">value = [0.0, 1.0]</tspan></text></g>
<g id="n95" class="nd"><rect x="3022" y="1605.1" width="180" height="86" fill="#f7fbfe"/><text y="1654.6"><tspan x="3112" dy="-27.9">favicon &lt;= -0.5</tspan><tspan x="3112" dy="18.6">gini = 0.5</tspan><tspan x="3112" dy="18.6">samples = 0.2%</tspan><tspan x="3112" dy="18.6">value = [0.49, 0.51]</tspan></text></g>
<g id="n96" class="nd"><rect x="3226" y="1614.6" width="160" height="67" fill="#399de5"/><text y="1654.6"><tspan x="3306" dy="-18.6">gini = 0.0</tspan><tspan x="3306" dy="18.6">samples = 0.1%</tspan><tspan x="3306" dy="18.6">value = [0.0, 1.0]</tspan></text></g>
<g id="n97" class="nd"><rect x="4044" y="1605.1" width="180" height="86" fill="#92c9f1"/><text y="1654.6"><tspan x="4134" dy="-27.9">httpsToken &lt;= -0.5</tspan><tspan x="4134" dy="18.6">gini = 0.43</tspan><tspan x="4134" dy="18.6">samples = 6.9%</tspan><tspan x="4134" dy="18.6">value = [0.31, 0.69]</tspan></text></g>
<g id="n98" class="nd"><rect x="4450" y="1605.1" width="180" height="86" fill="#f9e0ce"/><text y="1654.6"><tspan x="4540" dy="-27.9">httpsToken &lt;= -0.5</tspan><tspan x="4540" dy="18.6">gini = 0.49</tspan><tspan x="4540" dy="18.6">samples = 0.2%</tspan><tspan x="4540" dy="18.6">value = [0.57, 0.43]</tspan></text></g>
<g id="n99" class="nd"><rect x="5126" y="1605.1" width="178" height="86" fill="#8ec7f0"/><text y="1654.6"><tspan x="5215" dy="-27.9">httpsToken &lt;= -0.5</tspan><tspan x="5215" dy="18.6">gini = 0.42</tspan><tspan x="5215" dy="18.6">samples = 2.0%</tspan><tspan x="5215" dy="18.6">value = [0.3, 0.7]</tspan></text></g>
<g id="n100" class="nd"><rect x="5342" y="1605.1" width="180" height="86" fill="#48a4e7"/><text y="1654.6"><tspan x="5432" dy="-27.9">prefixSuffix &lt;= 0.5</tspan><tspan x="5432" dy="18.6">gini = 0.13</tspan><tspan x="5432" dy="18.6">samples = 0.7%</tspan><tspan x="5432" dy="18.6">value = [0.07, 0.93]</tspan></text></g>
<g id="n101" class="nd"><rect x="5741" y="1605.1" width="180" height="86" fill="#f9e4d5"/><text y="1654.6"><tspan x="5831" dy="-27.9">httpsToken &lt;= -0.5</tspan><tspan x="5831" dy="18.6">gini = 0.49</tspan><tspan x="5831" dy="18.6">samples = 0.1%</tspan><tspan x="5831" dy="18.6">value = [0.56, 0.44]</tspan></text></g>
<g id="n102" class="nd"><rect x="5945" y="1614.6" width="160" height="67" fill="#e58139"/><text y="1654.6"><tspan x="6025" dy="-18.6">gini = 0.0</tspan><tspan x="6025" dy="18.6">samples = 0.1%</tspan><tspan x="6025" dy="18.6">value = [1.0, 0.0]</tspan></text></g>
<g id="n103" class="nd"><rect x="6351" y="1605.1" width="180" height="86" fill="#54aae9"/><text y="1654.6"><tspan x="6441" dy="-27.9">httpsToken &lt;= -0.5</tspan><tspan x="6441" dy="18.6">gini = 0.21</tspan><tspan x="6441" dy="18.6">samples = 5.0%</tspan><tspan x="6441" dy="18.6">value = [0.12, 0.88]</tspan></text></g>
<g id="n104" class="nd"><rect x="6555.5" y="1605.1" width="203" height="86" fill="#48a4e7"/><text y="1654.6"><tspan x="6657" dy="-27.9">onMouseOver &lt;= -0.5</tspan><tspan x="6657" dy="18.6">gini = 0.13</tspan><tspan x="6657" dy="18.6">samples = 0.4%</tspan><tspan x="6657" dy="18.6">value = [0.07, 0.93]</tspan></text></g>
<g id="n105" class="nd"><rect x="7052.5" y="1605.1" width="203" height="86" fill="#dbedfa"/><text y="1654.6"><tspan x="7154" dy="-27.9">onMouseOver &lt;= -0.5</tspan><tspan x="7154" dy="18.6">gini = 0.49</tspan><tspan x="7154" dy="18.6">samples = 0.6%</tspan><tspan x="7154" dy="18.6">value = [0.45, 0.55]</tspan></text></g>
<g id="n106" class="nd"><rect x="7365.5" y="1605.1" width="203" height="86" fill="#48a4e7"/><text y="1654.6"><tspan x="7467" dy="-27.9">onMouseOver &lt;= -0.5</tspan><tspan x="7467" dy="18.6">gini = 0.13</tspan><tspan x="7467" dy="18.6">samples = 0.7%</tspan><tspan x="7467" dy="18.6">value = [0.07, 0.93]</tspan></text></g>
<g id="n107" class="nd"><rect x="69.5" y="1738.4" width="213" height="86" fill="#e88f4f"/><text y="1787.9"><tspan x="176" dy="-27.9">havingAtSymbol &lt;= 0.0</tspan><tspan x="176" dy="18.6">gini = 0.19</tspan><tspan x="176" dy="18.6">samples = 0.8%</tspan><tspan x="176" dy="18.6">value = [0.9, 0.1]</tspan></text></g>
<g id="n108" class="nd"><rect x="308" y="1747.9" width="160" height="67" fill="#f0b78e"/><text y="1787.9"><tspan x="388" dy="-18.6">gini = 0.42</tspan><tspan x="388" dy="18.6">samples = 0.4%</tspan><tspan x="388" dy="18.6">value = [0.7, 0.3]</tspan></text></g>
<g id="n109" class="nd"><rect x="803" y="1747.9" width="160" height="67" fill="#399de5"/><text y="1787.9"><tspan x="883" dy="-18.6">gini = 0.0</tspan><tspan x="883" dy="18.6">samples = 0.0%</tspan><tspan x="883" dy="18.6">value = [0.0, 1.0]</tspan></text></g>
<g id="n110" class="nd"><rect x="988" y="1747.9" width="180" height="67" fill="#eb9d65"/><text y="1787.9"><tspan x="1078" dy="-18.6">gini = 0.3</tspan><tspan x="1078" dy="18.6">samples = 0.5%</tspan><tspan x="1078" dy="18.6">value = [0.82, 0.18]</tspan></text></g>
<g id="n111" class="nd"><rect x="1193" y="1747.9" width="160" height="67" fill="#e58139"/><text y="1787.9"><tspan x="1273" dy="-18.6">gini = 0.0</tspan><tspan x="1273" dy="18.6">samples = 0.0%</tspan><tspan x="1273" dy="18.6">value = [1.0, 0.0]</tspan></text></g>
<g id="n112" class="nd"><rect x="1377" y="1747.9" width="180" height="67" fill="#eda978"/><text y="1787.9"><tspan x="1467" dy="-18.6">gini = 0.36</tspan><tspan x="1467" dy="18.6">samples = 0.1%</tspan><tspan x="1467" dy="18.6">value = [0.76, 0.24]</tspan></text></g>
<g id="n113" class="nd"><rect x="1581" y="1738.4" width="180" height="86" fill="#fbece2"/><text y="1787.9"><tspan x="1671" dy="-27.9">httpsToken &lt;= 0.5</tspan><tspan x="1671" dy="18.6">gini = 0.5</tspan><tspan x="1671" dy="18.6">samples = 0.2%</tspan><tspan x="1671" dy="18.6">value = [0.54, 0.46]</tspan></text></g>
<g id="n114" class="nd"><rect x="1785" y="1747.9" width="160" height="67" fill="#399de5"/><text y="1787.9"><tspan x="1865" dy="-18.6">gini = 0.0</tspan><tspan x="1865" dy="18.6">samples = 0.0%</tspan><tspan x="1865" dy="18.6">value = [0.0, 1.0]</tspan></text></g>
<g id="n115" class="nd"><rect x="1989" y="1738.4" width="180" height="86" fill="#a8d4f4"/><text y="1787.9"><tspan x="2079" dy="-27.9">prefixSuffix &lt;= 0.0</tspan><tspan x="2079" dy="18.6">gini = 0.46</tspan><tspan x="2079" dy="18.6">samples = 1.3%</tspan><tspan x="2079" dy="18.6">value = [0.36, 0.64]</tspan></text></g>
<g id="n116" class="nd"><rect x="2194" y="1738.4" width="180" height="86" fill="#92c9f1"/><text y="1787.9"><tspan x="2284" dy="-27.9">prefixSuffix &lt;= 0.0</tspan><tspan x="2284" dy="18.6">gini = 0.43</tspan><tspan x="2284" dy="18.6">samples = 1.9%</tspan><tspan x="2284" dy="18.6">value = [0.31, 0.69]</tspan></text></g>
<g id="n117" class="nd"><rect x="2602" y="1738.4" width="180" height="86" fill="#65b3eb"/><text y="1787.9"><tspan x="2692" dy="-27.9">httpsToken &lt;= -0.5</tspan><tspan x="2692" dy="18.6">gini = 0.29</tspan><tspan x="2692" dy="18.6">samples = 2.7%</tspan><tspan x="2692" dy="18.6">value = [0.18, 0.82]</tspan></text></g>
<g id="n118" class="nd"><rect x="2807" y="1747.9" width="160" height="67" fill="#399de5"/><text y="1787.9"><tspan x="2887" dy="-18.6">gini = 0.0</tspan><tspan x="2887" dy="18.6">samples = 1.1%</tspan><tspan x="2887" dy="18.6">value = [0.0, 1.0]</tspan></text></g>
<g id="n119" class="nd"><rect x="3013" y="1747.9" width="160" height="67" fill="#399de5"/><text y="1787.9"><tspan x="3093" dy="-18.6">gini = 0.0</tspan><tspan x="3093" dy="18.6">samples = 0.0%</tspan><tspan x="3093" dy="18.6">value = [0.0, 1.0]</tspan></text></g>
<g id="n120" class="nd"><rect x="3197" y="1738.4" width="180" height="86" fill="#f9e0ce"/><text y="1787.9"><tspan x="3287" dy="-27.9">httpsToken &lt;= -0.5</tspan><tspan x="3287" dy="18.6">gini = 0.49</tspan><tspan x="3287" dy="18.6">samples = 0.2%</tspan><tspan x="3287" dy="18.6">value = [0.57, 0.43]</tspan></text></g>
<g id="n121" class="nd"><rect x="3637.5" y="1738.4" width="203" height="86" fill="#c3e1f7"/><text y="1787.9"><tspan x="3739" dy="-27.9">onMouseOver &lt;= -0.5</tspan><tspan x="3739" dy="18.6">gini = 0.48</tspan><tspan x="3739" dy="18.6">samples = 3.7%</tspan><tspan x="3739" dy="18.6">value = [0.41, 0.59]</tspan></text></g>
<g id="n122" class="nd"><rect x="4048" y="1738.4" width="172" height="86" fill="#6ab6ec"/><text y="1787.9"><tspan x="4134" dy="-27.9">httpsToken &lt;= 0.5</tspan><tspan x="4134" dy="18.6">gini = 0.32</tspan><tspan x="4134" dy="18.6">samples = 3.2%</tspan><tspan x="4134" dy="18.6">value = [0.2, 0.8]</tspan></text></g>
<g id="n123" class="nd"><rect x="4335.5" y="1738.4" width="203" height="86" fill="#f3c5a4"/><text y="1787.9"><tspan x="4437" dy="-27.9">onMouseOver &lt;= -0.5</tspan><tspan x="4437" dy="18.6">gini = 0.45</tspan><tspan x="4437" dy="18.6">samples = 0.2%</tspan><tspan x="4437" dy="18.6">value = [0.65, 0.35]</tspan></text></g>
<g id="n124" class="nd"><rect x="4562" y="1747.9" width="160" height="67" fill="#399de5"/><text y="1787.9"><tspan x="4642" dy="-18.6">gini = 0.0</tspan><tspan x="4642" dy="18.6">samples = 0.0%</tspan><tspan x="4642" dy="18.6">value = [0.0, 1.0]</tspan></text></g>
<g id="n125" class="nd"><rect x="4886.5" y="1738.4" width="203" height="86" fill="#e9f4fc"/><text y="1787.9"><tspan x="4988" dy="-27.9">onMouseOver &lt;= -0.5</tspan><tspan x="4988" dy="18.6">gini = 0.5</tspan><tspan x="4988" dy="18.6">samples = 1.0%</tspan><tspan x="4988" dy="18.6">value = [0.47, 0.53]</tspan></text></g>
<g id="n126" class="nd"><rect x="5113.5" y="1738.4" width="203" height="86" fill="#5caeea"/><text y="1787.9"><tspan x="5215" dy="-27.9">onMouseOver &lt;= -0.5</tspan><tspan x="5215" dy="18.6">gini = 0.26</tspan><tspan x="5215" dy="18.6">samples = 1.0%</tspan><tspan x="5215" dy="18.6">value = [0.15, 0.85]</tspan></text></g>
<g id="n127" class="nd"><rect x="5342" y="1738.4" width="180" height="86" fill="#46a3e7"/><text y="1787.9"><tspan x="5432" dy="-27.9">httpsToken &lt;= -0.5</tspan><tspan x="5432" dy="18.6">gini = 0.12</tspan><tspan x="5432" dy="18.6">samples = 0.7%</tspan><tspan x="5432" dy="18.6">value = [0.06, 0.94]</tspan></text></g>
<g id="n128" class="nd"><rect x="5546" y="1747.9" width="180" height="67" fill="#7bbeee"/><text y="1787.9"><tspan x="5636" dy="-18.6">gini = 0.38</tspan><tspan x="5636" dy="18.6">samples = 0.0%</tspan><tspan x="5636" dy="18.6">value = [0.25, 0.75]</tspan></text></g>
<g id="n129" class="nd"><rect x="5750" y="1747.9" width="160" height="67" fill="#e58139"/><text y="1787.9"><tspan x="5830" dy="-18.6">gini = 0.0</tspan><tspan x="5830" dy="18.6">samples = 0.0%</tspan><tspan x="5830" dy="18.6">value = [1.0, 0.0]</tspan></text></g>
<g id="n130" class="nd"><rect x="5934" y="1747.9" width="160" height="67" fill="#399de5"/><text y="1787.9"><tspan x="6014" dy="-18.6">gini = 0.0</tspan><tspan x="6014" dy="18.6">samples = 0.0%</tspan><tspan x="6014" dy="18.6">value = [0.0, 1.0]</tspan></text></g>
<g id="n131" class="nd"><rect x="6118.5" y="1738.4" width="203" height="86" fill="#52a9e8"/><text y="1787.9"><tspan x="6220" dy="-27.9">onMouseOver &lt;= -0.5</tspan><tspan x="6220" dy="18.6">gini = 0.2</tspan><tspan x="6220" dy="18.6">samples = 1.9%</tspan><tspan x="6220" dy="18.6">value = [0.11, 0.89]</tspan></text></g>
<g id="n132" class="nd"><rect x="6344.5" y="1738.4" width="203" height="86" fill="#54aae9"/><text y="1787.9"><tspan x="6446" dy="-27.9">onMouseOver &lt;= -0.5</tspan><tspan x="6446" dy="18.6">gini = 0.22</tspan><tspan x="6446" dy="18.6">samples = 3.1%</tspan><tspan x="6446" dy="18.6">value = [0.12, 0.88]</tspan></text></g>
<g id="n133" class="nd"><rect x="6572" y="1747.9" width="160" height="67" fill="#399de5"/><text y="1787.9"><tspan x="6652" dy="-18.6">gini = 0.0</tspan><tspan x="6652" dy="18.6">samples = 0.3%</tspan><tspan x="6652" dy="18.6">value = [0.0, 1.0]</tspan></text></g>
<g id="n134" class="nd"><rect x="6756" y="1738.4" width="196" height="86" fill="#92c9f1"/><text y="1787.9"><tspan x="6854" dy="-27.9">onMouseOver &lt;= 0.5</tspan><tspan x="6854" dy="18.6">gini = 0.43</tspan><tspan x="6854" dy="18.6">samples = 0.1%</tspan><tspan x="6854" dy="18.6">value = [0.31, 0.69]</tspan></text></g>
<g id="n135" class="nd"><rect x="6977" y="1747.9" width="180" height="67" fill="#fdf5f0"/><text y="1787.9"><tspan x="7067" dy="-18.6">gini = 0.5</tspan><tspan x="7067" dy="18.6">samples = 0.4%</tspan><tspan x="7067" dy="18.6">value = [0.52, 0.48]</tspan></text></g>
<g id="n136" class="nd"><rect x="7182" y="1747.9" width="180" height="67" fill="#9fcff2"/><text y="1787.9"><tspan x="7272" dy="-18.6">gini = 0.45</tspan><tspan x="7272" dy="18.6">samples = 0.3%</tspan><tspan x="7272" dy="18.6">value = [0.34, 0.66]</tspan></text></g>
<g id="n137" class="nd"><rect x="7387" y="1747.9" width="160" height="67" fill="#399de5"/><text y="1787.9"><tspan x="7467" dy="-18.6">gini = 0.0</tspan><tspan x="7467" dy="18.6">samples = 0.2%</tspan><tspan x="7467" dy="18.6">value = [0.0, 1.0]</tspan></text></g>
<g id="n138" class="nd"><rect x="7570" y="1738.4" width="180" height="86" fill="#52a9e8"/><text y="1787.9"><tspan x="7660" dy="-27.9">httpsToken &lt;= 0.5</tspan><tspan x="7660" dy="18.6">gini = 0.19</tspan><tspan x="7660" dy="18.6">samples = 0.5%</tspan><tspan x="7660" dy="18.6">value = [0.11, 0.89]</tspan></text></g>
<g id="n139" class="nd"><rect x="5" y="1881.2" width="160" height="67" fill="#e88f4f"/><text y="1921.2"><tspan x="85" dy="-18.6">gini = 0.17</tspan><tspan x="85" dy="18.6">samples = 0.8%</tspan><tspan x="85" dy="18.6">value = [0.9, 0.1]</tspan></text></g>
<g id="n140" class="nd"><rect x="188" y="1881.2" width="160" height="67" fill="#399de5"/><text y="1921.2"><tspan x="268" dy="-18.6">gini = 0.0</tspan><tspan x="268" dy="18.6">samples = 0.0%</tspan><tspan x="268" dy="18.6">value = [0.0, 1.0]</tspan></text></g>
<g id="n141" class="nd"><rect x="1397" y="1881.2" width="160" height="67" fill="#399de5"/><text y="1921.2"><tspan x="1477" dy="-18.6">gini = 0.0</tspan><tspan x="1477" dy="18.6">samples = 0.0%</tspan><tspan x="1477" dy="18.6">value = [0.0, 1.0]</tspan></text></g>
<g id="n142" class="nd"><rect x="1581" y="1881.2" width="180" height="67" fill="#f7d9c3"/><text y="1921.2"><tspan x="1671" dy="-18.6">gini = 0.48</tspan><tspan x="1671" dy="18.6">samples = 0.1%</tspan><tspan x="1671" dy="18.6">value = [0.59, 0.41]</tspan></text></g>
<g id="n143" class="nd"><rect x="1785" y="1881.2" width="180" height="67" fill="#7ebfee"/><text y="1921.2"><tspan x="1875" dy="-18.6">gini = 0.38</tspan><tspan x="1875" dy="18.6">samples = 1.1%</tspan><tspan x="1875" dy="18.6">value = [0.26, 0.74]</tspan></text></g>
<g id="n144" class="nd"><rect x="1989" y="1881.2" width="180" height="67" fill="#e68641"/><text y="1921.2"><tspan x="2079" dy="-18.6">gini = 0.08</tspan><tspan x="2079" dy="18.6">samples = 0.2%</tspan><tspan x="2079" dy="18.6">value = [0.96, 0.04]</tspan></text></g>
<g id="n145" class="nd"><rect x="2194" y="1881.2" width="180" height="67" fill="#96cbf1"/><text y="1921.2"><tspan x="2284" dy="-18.6">gini = 0.43</tspan><tspan x="2284" dy="18.6">samples = 1.7%</tspan><tspan x="2284" dy="18.6">value = [0.32, 0.68]</tspan></text></g>
<g id="n146" class="nd"><rect x="2394" y="1881.2" width="180" height="67" fill="#7ebfee"/><text y="1921.2"><tspan x="2484" dy="-18.6">gini = 0.39</tspan><tspan x="2484" dy="18.6">samples = 0.1%</tspan><tspan x="2484" dy="18.6">value = [0.26, 0.74]</tspan></text></g>
<g id="n147" class="nd"><rect x="2601" y="1871.7" width="180" height="86" fill="#7bbeee"/><text y="1921.2"><tspan x="2691" dy="-27.9">favicon &lt;= -0.5</tspan><tspan x="2691" dy="18.6">gini = 0.37</tspan><tspan x="2691" dy="18.6">samples = 1.0%</tspan><tspan x="2691" dy="18.6">value = [0.25, 0.75]</tspan></text></g>
<g id="n148" class="nd"><rect x="2806" y="1871.7" width="180" height="86" fill="#59ade9"/><text y="1921.2"><tspan x="2896" dy="-27.9">favicon &lt;= -0.5</tspan><tspan x="2896" dy="18.6">gini = 0.24</tspan><tspan x="2896" dy="18.6">samples = 1.8%</tspan><tspan x="2896" dy="18.6">value = [0.14, 0.86]</tspan></text></g>
<g id="n149" class="nd"><rect x="3011" y="1881.2" width="160" height="67" fill="#399de5"/><text y="1921.2"><tspan x="3091" dy="-18.6">gini = 0.0</tspan><tspan x="3091" dy="18.6">samples = 0.0%</tspan><tspan x="3091" dy="18.6">value = [0.0, 1.0]</tspan></text></g>
<g id="n150" class="nd"><rect x="3193.5" y="1871.7" width="227" height="86" fill="#eead7e"/><text y="1921.2"><tspan x="3307" dy="-27.9">getageOfDomain &lt;= -0.5</tspan><tspan x="3307" dy="18.6">gini = 0.39</tspan><tspan x="3307" dy="18.6">samples = 0.1%</tspan><tspan x="3307" dy="18.6">value = [0.74, 0.26]</tspan></text></g>
<g id="n151" class="nd"><rect x="3445" y="1881.2" width="180" height="67" fill="#d5eaf9"/><text y="1921.2"><tspan x="3535" dy="-18.6">gini = 0.49</tspan><tspan x="3535" dy="18.6">samples = 2.4%</tspan><tspan x="3535" dy="18.6">value = [0.44, 0.56]</tspan></text></g>
<g id="n152" class="nd"><rect x="3649" y="1881.2" width="180" height="67" fill="#a4d2f3"/><text y="1921.2"><tspan x="3739" dy="-18.6">gini = 0.46</tspan><tspan x="3739" dy="18.6">samples = 1.3%</tspan><tspan x="3739" dy="18.6">value = [0.35, 0.65]</tspan></text></g>
<g id="n153" class="nd"><rect x="3855.5" y="1871.7" width="203" height="86" fill="#48a4e7"/><text y="1921.2"><tspan x="3957" dy="-27.9">onMouseOver &lt;= -0.5</tspan><tspan x="3957" dy="18.6">gini = 0.14</tspan><tspan x="3957" dy="18.6">samples = 2.4%</tspan><tspan x="3957" dy="18.6">value = [0.07, 0.93]</tspan></text></g>
<g id="n154" class="nd"><rect x="4081.5" y="1871.7" width="203" height="86" fill="#fcf1e9"/><text y="1921.2"><tspan x="4183" dy="-27.9">onMouseOver &lt;= -0.5</tspan><tspan x="4183" dy="18.6">gini = 0.5</tspan><tspan x="4183" dy="18.6">samples = 0.8%</tspan><tspan x="4183" dy="18.6">value = [0.53, 0.47]</tspan></text></g>
<g id="n155" class="nd"><rect x="4308" y="1881.2" width="160" height="67" fill="#399de5"/><text y="1921.2"><tspan x="4388" dy="-18.6">gini = 0.0</tspan><tspan x="4388" dy="18.6">samples = 0.0%</tspan><tspan x="4388" dy="18.6">value = [0.0, 1.0]</tspan></text></g>
<g id="n156" class="nd"><rect x="4493" y="1881.2" width="180" height="67" fill="#f0b48a"/><text y="1921.2"><tspan x="4583" dy="-18.6">gini = 0.41</tspan><tspan x="4583" dy="18.6">samples = 0.1%</tspan><tspan x="4583" dy="18.6">value = [0.71, 0.29]</tspan></text></g>
<g id="n157" class="nd"><rect x="4697" y="1881.2" width="180" height="67" fill="#f7d9c3"/><text y="1921.2"><tspan x="4787" dy="-18.6">gini = 0.48</tspan><tspan x="4787" dy="18.6">samples = 0.7%</tspan><tspan x="4787" dy="18.6">value = [0.59, 0.41]</tspan></text></g>
<g id="n158" class="nd"><rect x="4901" y="1881.2" width="180" height="67" fill="#68b4eb"/><text y="1921.2"><tspan x="4991" dy="-18.6">gini = 0.31</tspan><tspan x="4991" dy="18.6">samples = 0.3%</tspan><tspan x="4991" dy="18.6">value = [0.19, 0.81]</tspan></text></g>
<g id="n159" class="nd"><rect x="5105" y="1881.2" width="160" height="67" fill="#399de5"/><text y="1921.2"><tspan x="5185" dy="-18.6">gini = 0.0</tspan><tspan x="5185" dy="18.6">samples = 0.2%</tspan><tspan x="5185" dy="18.6">value = [0.0, 1.0]</tspan></text></g>
<g id="n160" class="nd"><rect x="5291" y="1871.7" width="180" height="86" fill="#6eb7ec"/><text y="1921.2"><tspan x="5381" dy="-27.9">httpsToken &lt;= 0.5</tspan><tspan x="5381" dy="18.6">gini = 0.33</tspan><tspan x="5381" dy="18.6">samples = 0.8%</tspan><tspan x="5381" dy="18.6">value = [0.21, 0.79]</tspan></text></g>
<g id="n161" class="nd"><rect x="5494.5" y="1871.7" width="203" height="86" fill="#62b1ea"/><text y="1921.2"><tspan x="5596" dy="-27.9">onMouseOver &lt;= -0.5</tspan><tspan x="5596" dy="18.6">gini = 0.28</tspan><tspan x="5596" dy="18.6">samples = 0.3%</tspan><tspan x="5596" dy="18.6">value = [0.17, 0.83]</tspan></text></g>
<g id="n162" class="nd"><rect x="5721" y="1881.2" width="160" height="67" fill="#399de5"/><text y="1921.2"><tspan x="5801" dy="-18.6">gini = 0.0</tspan><tspan x="5801" dy="18.6">samples = 0.4%</tspan><tspan x="5801" dy="18.6">value = [0.0, 1.0]</tspan></text></g>
<g id="n163" class="nd"><rect x="5913.5" y="1871.7" width="213" height="86" fill="#74baed"/><text y="1921.2"><tspan x="6020" dy="-27.9">havingAtSymbol &lt;= 0.0</tspan><tspan x="6020" dy="18.6">gini = 0.35</tspan><tspan x="6020" dy="18.6">samples = 1.0%</tspan><tspan x="6020" dy="18.6">value = [0.23, 0.77]</tspan></text></g>
<g id="n164" class="nd"><rect x="6151" y="1881.2" width="160" height="67" fill="#399de5"/><text y="1921.2"><tspan x="6231" dy="-18.6">gini = 0.0</tspan><tspan x="6231" dy="18.6">samples = 0.9%</tspan><tspan x="6231" dy="18.6">value = [0.0, 1.0]</tspan></text></g>
<g id="n165" class="nd"><rect x="6337" y="1881.2" width="160" height="67" fill="#399de5"/><text y="1921.2"><tspan x="6417" dy="-18.6">gini = 0.0</tspan><tspan x="6417" dy="18.6">samples = 0.3%</tspan><tspan x="6417" dy="18.6">value = [0.0, 1.0]</tspan></text></g>
<g id="n166" class="nd"><rect x="6521.5" y="1871.7" width="213" height="86" fill="#59ade9"/><text y="1921.2"><tspan x="6628" dy="-27.9">havingAtSymbol &lt;= 0.0</tspan><tspan x="6628" dy="18.6">gini = 0.24</tspan><tspan x="6628" dy="18.6">samples = 2.8%</tspan><tspan x="6628" dy="18.6">value = [0.14, 0.86]</tspan></text></g>
<g id="n167" class="nd"><rect x="6763" y="1881.2" width="180" height="67" fill="#a8d4f4"/><text y="1921.2"><tspan x="6853" dy="-18.6">gini = 0.46</tspan><tspan x="6853" dy="18.6">samples = 0.1%</tspan><tspan x="6853" dy="18.6">value = [0.36, 0.64]</tspan></text></g>
<g id="n168" class="nd"><rect x="6967" y="1881.2" width="160" height="67" fill="#399de5"/><text y="1921.2"><tspan x="7047" dy="-18.6">gini = 0.0</tspan><tspan x="7047" dy="18.6">samples = 0.0%</tspan><tspan x="7047" dy="18.6">value = [0.0, 1.0]</tspan></text></g>
<g id="n169" class="nd"><rect x="7488" y="1881.2" width="160" height="67" fill="#399de5"/><text y="1921.2"><tspan x="7568" dy="-18.6">gini = 0.0</tspan><tspan x="7568" dy="18.6">samples = 0.4%</tspan><tspan x="7568" dy="18.6">value = [0.0, 1.0]</tspan></text></g>
<g id="n170" class="nd"><rect x="7672" y="1881.2" width="160" height="67" fill="#e58139"/><text y="1921.2"><tspan x="7752" dy="-18.6">gini = 0.0</tspan><tspan x="7752" dy="18.6">samples = 0.0%</tspan><tspan x="7752" dy="18.6">value = [1.0, 0.0]</tspan></text></g>
<g id="n171" class="nd"><rect x="2421" y="2014.5" width="160" height="67" fill="#399de5"/><text y="2054.5"><tspan x="2501" dy="-18.6">gini = 0.0</tspan><tspan x="2501" dy="18.6">samples = 0.0%</tspan><tspan x="2501" dy="18.6">value = [0.0, 1.0]</tspan></text></g>
<g id="n172" class="nd"><rect x="2605" y="2014.5" width="180" height="67" fill="#7bbeee"/><text y="2054.5"><tspan x="2695" dy="-18.6">gini = 0.38</tspan><tspan x="2695" dy="18.6">samples = 1.0%</tspan><tspan x="2695" dy="18.6">value = [0.25, 0.75]</tspan></text></g>
<g id="n173" class="nd"><rect x="2814" y="2014.5" width="160" height="67" fill="#399de5"/><text y="2054.5"><tspan x="2894" dy="-18.6">gini = 0.0</tspan><tspan x="2894" dy="18.6">samples = 0.0%</tspan><tspan x="2894" dy="18.6">value = [0.0, 1.0]</tspan></text></g>
<g id="n174" class="nd"><rect x="2998" y="2005" width="180" height="86" fill="#59ade9"/><text y="2054.5"><tspan x="3088" dy="-27.9">httpsToken &lt;= 0.5</tspan><tspan x="3088" dy="18.6">gini = 0.24</tspan><tspan x="3088" dy="18.6">samples = 1.7%</tspan><tspan x="3088" dy="18.6">value = [0.14, 0.86]</tspan></text></g>
<g id="n175" class="nd"><rect x="3209" y="2014.5" width="180" height="67" fill="#e89152"/><text y="2054.5"><tspan x="3299" dy="-18.6">gini = 0.19</tspan><tspan x="3299" dy="18.6">samples = 0.1%</tspan><tspan x="3299" dy="18.6">value = [0.89, 0.11]</tspan></text></g>
<g id="n176" class="nd"><rect x="3413" y="2014.5" width="160" height="67" fill="#399de5"/><text y="2054.5"><tspan x="3493" dy="-18.6">gini = 0.0</tspan><tspan x="3493" dy="18.6">samples = 0.0%</tspan><tspan x="3493" dy="18.6">value = [0.0, 1.0]</tspan></text></g>
<g id="n177" class="nd"><rect x="3688" y="2014.5" width="160" height="67" fill="#399de5"/><text y="2054.5"><tspan x="3768" dy="-18.6">gini = 0.0</tspan><tspan x="3768" dy="18.6">samples = 0.1%</tspan><tspan x="3768" dy="18.6">value = [0.0, 1.0]</tspan></text></g>
<g id="n178" class="nd"><rect x="3873" y="2014.5" width="180" height="67" fill="#4aa6e7"/><text y="2054.5"><tspan x="3963" dy="-18.6">gini = 0.15</tspan><tspan x="3963" dy="18.6">samples = 2.2%</tspan><tspan x="3963" dy="18.6">value = [0.08, 0.92]</tspan></text></g>
<g id="n179" class="nd"><rect x="4087" y="2014.5" width="180" height="67" fill="#a4d2f3"/><text y="2054.5"><tspan x="4177" dy="-18.6">gini = 0.46</tspan><tspan x="4177" dy="18.6">samples = 0.5%</tspan><tspan x="4177" dy="18.6">value = [0.35, 0.65]</tspan></text></g>
<g id="n180" class="nd"><rect x="4291" y="2014.5" width="180" height="67" fill="#eb9f68"/><text y="2054.5"><tspan x="4381" dy="-18.6">gini = 0.31</tspan><tspan x="4381" dy="18.6">samples = 0.3%</tspan><tspan x="4381" dy="18.6">value = [0.81, 0.19]</tspan></text></g>
<g id="n181" class="nd"><rect x="5089" y="2014.5" width="180" height="67" fill="#3b9ee5"/><text y="2054.5"><tspan x="5179" dy="-18.6">gini = 0.02</tspan><tspan x="5179" dy="18.6">samples = 0.6%</tspan><tspan x="5179" dy="18.6">value = [0.01, 0.99]</tspan></text></g>
<g id="n182" class="nd"><rect x="5293" y="2014.5" width="180" height="67" fill="#eca571"/><text y="2054.5"><tspan x="5383" dy="-18.6">gini = 0.35</tspan><tspan x="5383" dy="18.6">samples = 0.2%</tspan><tspan x="5383" dy="18.6">value = [0.78, 0.22]</tspan></text></g>
<g id="n183" class="nd"><rect x="5501" y="2014.5" width="180" height="67" fill="#7ebfee"/><text y="2054.5"><tspan x="5591" dy="-18.6">gini = 0.39</tspan><tspan x="5591" dy="18.6">samples = 0.2%</tspan><tspan x="5591" dy="18.6">value = [0.26, 0.74]</tspan></text></g>
<g id="n184" class="nd"><rect x="5706" y="2014.5" width="160" height="67" fill="#399de5"/><text y="2054.5"><tspan x="5786" dy="-18.6">gini = 0.0</tspan><tspan x="5786" dy="18.6">samples = 0.1%</tspan><tspan x="5786" dy="18.6">value = [0.0, 1.0]</tspan></text></g>
<g id="n185" class="nd"><rect x="5913" y="2014.5" width="180" height="67" fill="#78bced"/><text y="2054.5"><tspan x="6003" dy="-18.6">gini = 0.36</tspan><tspan x="6003" dy="18.6">samples = 0.9%</tspan><tspan x="6003" dy="18.6">value = [0.24, 0.76]</tspan></text></g>
<g id="n186" class="nd"><rect x="6118" y="2014.5" width="160" height="67" fill="#399de5"/><text y="2054.5"><tspan x="6198" dy="-18.6">gini = 0.0</tspan><tspan x="6198" dy="18.6">samples = 0.0%</tspan><tspan x="6198" dy="18.6">value = [0.0, 1.0]</tspan></text></g>
<g id="n187" class="nd"><rect x="6430" y="2005" width="196" height="86" fill="#59ade9"/><text y="2054.5"><tspan x="6528" dy="-27.9">onMouseOver &lt;= 0.5</tspan><tspan x="6528" dy="18.6">gini = 0.24</tspan><tspan x="6528" dy="18.6">samples = 2.7%</tspan><tspan x="6528" dy="18.6">value = [0.14, 0.86]</tspan></text></g>
<g id="n188" class="nd"><rect x="6651" y="2014.5" width="160" height="67" fill="#399de5"/><text y="2054.5"><tspan x="6731" dy="-18.6">gini = 0.0</tspan><tspan x="6731" dy="18.6">samples = 0.0%</tspan><tspan x="6731" dy="18.6">value = [0.0, 1.0]</tspan></text></g>
<g id="n189" class="nd"><rect x="2901" y="2138" width="180" height="67" fill="#59ade9"/><text y="2178"><tspan x="2991" dy="-18.6">gini = 0.24</tspan><tspan x="2991" dy="18.6">samples = 1.7%</tspan><tspan x="2991" dy="18.6">value = [0.14, 0.86]</tspan></text></g>
<g id="n190" class="nd"><rect x="3106" y="2138" width="160" height="67" fill="#399de5"/><text y="2178"><tspan x="3186" dy="-18.6">gini = 0.0</tspan><tspan x="3186" dy="18.6">samples = 0.0%</tspan><tspan x="3186" dy="18.6">value = [0.0, 1.0]</tspan></text></g>
<g id="n191" class="nd"><rect x="6340" y="2138" width="180" height="67" fill="#59ade9"/><text y="2178"><tspan x="6430" dy="-18.6">gini = 0.24</tspan><tspan x="6430" dy="18.6">samples = 2.7%</tspan><tspan x="6430" dy="18.6">value = [0.14, 0.86]</tspan></text></g>
<g id="n192" class="nd"><rect x="6545" y="2138" width="160" height="67" fill="#399de5"/><text y="2178"><tspan x="6625" dy="-18.6">gini = 0.0</tspan><tspan x="6625" dy="18.6">samples = 0.0%</tspan><tspan x="6625" dy="18.6">value = [0.0, 1.0]</tspan></text></g>
</g>
</svg>
